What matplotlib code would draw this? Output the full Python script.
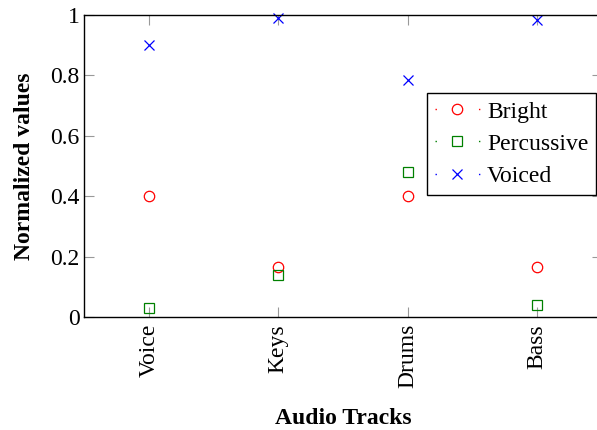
import matplotlib
matplotlib.use("Agg")
import matplotlib.pyplot as plt
from matplotlib.lines import Line2D
from matplotlib.legend_handler import HandlerLine2D

plt.rcParams['font.family'] = ['Liberation Serif', 'DejaVu Serif']

tracks = ['Voice', 'Keys', 'Drums', 'Bass']
bright = [0.4, 0.167, 0.4, 0.167]
percussive = [0.03, 0.14, 0.48, 0.04]
voiced = [0.9, 0.99, 0.785, 0.985]

fig = plt.figure(figsize=(5.97, 4.30), dpi=100)
# right spine sits just past the image edge, like the cropped original
ax = fig.add_axes([84 / 597, 113 / 430, 518 / 597, 302 / 430])

x = list(range(len(tracks)))
circ = dict(marker='o', markersize=7.5, markerfacecolor='none',
            markeredgecolor='red', markeredgewidth=0.9)
sq = dict(marker='s', markersize=7, markerfacecolor='none',
          markeredgecolor='green', markeredgewidth=0.9)
cross = dict(marker='x', markersize=6.5, markeredgecolor='blue',
             markeredgewidth=0.9)

ax.plot(x, bright, linestyle='none', clip_on=False, **circ)
ax.plot(x, percussive, linestyle='none', clip_on=False, **sq)
ax.plot(x, voiced, linestyle='none', clip_on=False, **cross)

ax.set_xlim(-0.5, 3.5)
ax.set_ylim(0, 1)
ax.set_xticks(x)
ax.set_xticklabels(tracks, rotation=90, fontsize=17)
ax.set_yticks([0, 0.2, 0.4, 0.6, 0.8, 1])
ax.set_yticklabels(['0', '0.2', '0.4', '0.6', '0.8', '1'], fontsize=17)
ax.tick_params(direction='in', length=7.5, width=0.8, color='#999999',
               top=True, right=True)
ax.tick_params(axis='y', pad=3)
ax.tick_params(axis='x', pad=5)

for s in ax.spines.values():
    s.set_linewidth(1.0)
    s.set_color('black')

ax.set_ylabel('Normalized values', fontsize=17, fontweight='bold', labelpad=11)
ax.set_xlabel('Audio Tracks', fontsize=17, fontweight='bold', labelpad=14)

# pgfplots-like legend entries: tiny dots at both ends, marker in the middle
dots = (0, (1, 30.3))
handles = [
    Line2D([], [], color='red', lw=1, linestyle=dots, **circ),
    Line2D([], [], color='green', lw=1, linestyle=dots, **sq),
    Line2D([], [], color='blue', lw=1, linestyle=dots, **cross),
]
leg = ax.legend(handles, ['Bright', 'Percussive', 'Voiced'],
                handler_map={Line2D: HandlerLine2D(marker_pad=0)},
                loc='upper left', bbox_to_anchor=(427 / 597, 1 - 93 / 430),
                bbox_transform=fig.transFigure, fontsize=17, frameon=True,
                fancybox=False, edgecolor='black', framealpha=1,
                borderpad=0.34, labelspacing=0.45, handlelength=1.9,
                handletextpad=0.3, borderaxespad=0)
leg.get_frame().set_linewidth(1.0)

fig.savefig('out.png', dpi=100)
